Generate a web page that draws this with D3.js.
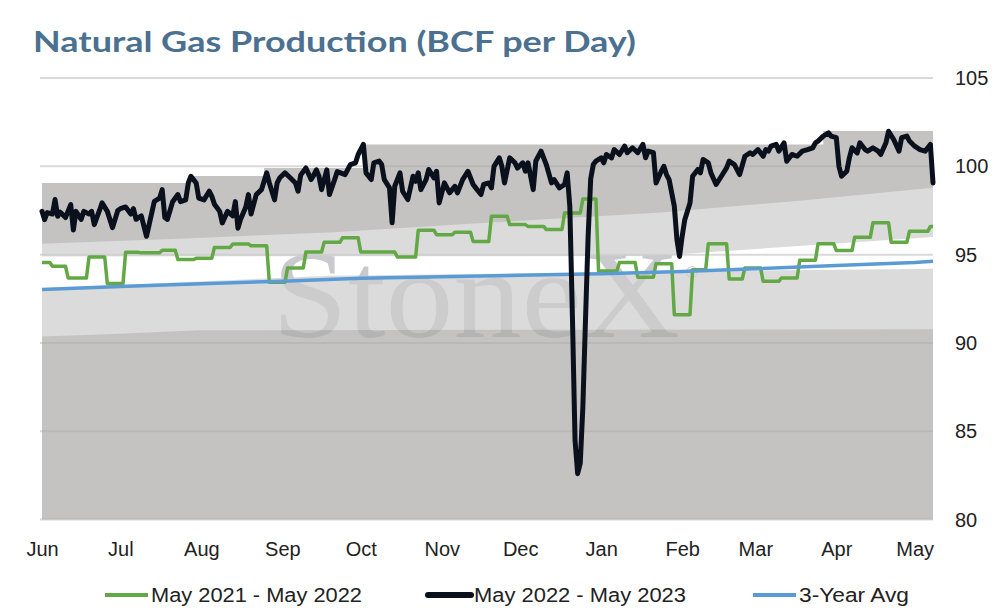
<!DOCTYPE html>
<html>
<head>
<meta charset="utf-8">
<script src="https://cdn.jsdelivr.net/npm/d3@7"></script>
<style>
  body { margin: 0; background: #fff; }
  text { font-family: "Liberation Sans", Arial, sans-serif; }
</style>
</head>
<body>
<div id="chart"></div>
<script>
// daily production, days counted from 1 Jun 2022
var blackDays = [0,1,2,4,5,6,7,9,11,12,13,15,16,18,19,20,22,23,25,27,29,30,32,34,35,36,38,40,41,43,45,46,47,48,50,52,53,55,56,57,59,60,62,64,65,66,68,69,71,73,74,75,76,78,79,80,82,84,85,86,87,89,90,91,93,95,97,98,99,101,103,104,105,106,107,109,110,112,113,
  116,118,120,121,123,124,126,127,129,130,131,133,134,135,137,138,140,142,143,144,145,147,148,150,151,152,154,155,156,158,159,161,163,165,166,168,169,171,172,173,175,176,177,179,181,182,184,185,186,188,189,191,193,195,196,198,200,201,
  202,203,204,205,206,207,208,209,210,211,212,214,215,216,218,219,221,223,224,226,228,230,231,232,234,235,237,238,239,240,242,243,244,245,246,248,249,251,252,253,255,256,258,260,
  262,263,265,267,269,271,272,274,276,277,278,279,281,282,284,285,287,289,291,293,295,296,297,299,301,302,304,305,306,308,309,310,312,313,315,316,318,320,321,323,324,326,328,329,331,332,334,336,338,339,340,341];
var blackVals = [97.45,96.98,97.38,97.3,98.12,97.17,97.4,97.1,97.83,96.4,97.45,97.0,97.45,97.3,97.45,96.7,97.5,97.93,97.45,96.53,97.5,97.6,97.7,97.3,97.6,97.0,97.2,96.04,96.7,98.02,98.2,98.68,97.1,97.0,98.0,98.4,98.0,98.1,99.06,99.44,99.06,98.2,98.1,98.59,98.3,97.85,97.45,96.8,97.45,97.2,98.0,96.5,97.0,97.7,98.4,97.3,98.4,98.68,99.15,99.63,99.06,98.1,99.06,99.35,99.63,99.35,99.06,98.59,99.5,99.91,99.25,99.5,99.8,99.44,98.68,99.8,98.4,99.25,99.7,
  99.53,100.1,100.2,100.67,101.24,99.63,99.25,100.2,100.3,100.1,99.25,98.78,96.8,98.87,99.63,98.59,98.12,99.44,99.15,99.63,98.68,99.25,99.82,99.35,99.72,97.93,99.06,98.78,98.5,98.87,98.5,99.25,99.72,98.97,98.78,98.4,98.97,99.06,98.78,100.0,100.48,100.0,99.06,100.48,100.2,99.9,100.2,99.72,100.2,98.68,100.3,100.86,100.1,99.06,99.25,98.78,98.97,99.63,
  97.74,91.5,84.5,82.6,83.2,86.4,91.3,96.0,99.3,100.1,100.3,100.48,100.2,100.67,100.48,100.95,100.67,101.14,100.77,101.05,100.77,101.24,100.48,100.86,100.77,99.06,99.72,100.0,99.53,99.25,97.74,95.85,94.9,96.04,96.98,97.93,99.44,99.82,99.63,100.39,100.2,99.63,98.97,99.44,
  99.91,100.29,100.1,99.53,100.57,100.77,100.67,100.95,100.57,100.95,100.86,101.14,101.24,100.86,101.33,100.29,100.67,100.57,100.86,100.95,101.05,101.33,101.43,101.71,101.9,101.71,101.62,100.0,99.44,99.72,100.48,101.05,100.76,101.33,100.95,100.86,101.05,100.86,100.67,101.33,101.99,101.5,100.86,101.62,101.71,101.43,101.14,100.95,100.86,101.05,101.24,99.06];

// prior year, weekly steps (start day of each step)
var greenStart = [0,4,10,18,25,32,38,46,52,59,66,73,80,87,94,101,108,115,122,136,144,151,158,165,172,179,186,193,200,207,213,221,228,235,242,249,255,263,269,276,283,290,297,304,311,318,325,332,340];
var greenVals = [94.56,94.34,93.68,94.87,93.36,95.13,95.1,95.25,94.72,94.8,95.41,95.6,95.5,93.43,94.25,95.15,95.7,95.95,95.15,94.87,96.38,96.13,96.27,95.75,97.17,96.7,96.6,96.42,97.36,98.15,94.07,94.56,93.72,94.49,91.6,94.15,95.62,93.62,94.25,93.49,93.68,94.68,95.62,95.23,95.98,96.8,95.7,96.32,96.6];

var avgDays = [0,30,61,92,122,153,183,214,245,273,304,334,341];
var avgVals = [93.02,93.2,93.35,93.5,93.66,93.75,93.83,93.92,94.05,94.2,94.38,94.56,94.63];

// shaded range bands (top edge of each layer)
var baseDays = [0,25,60,341];
var baseTop = [90.37,90.5,90.72,90.78];
var gapLowDays = [0,110,237,341];
var gapLow = [93.1,93.8,94.05,94.2];
var gapHighDays = [0,233,341];
var gapHigh = [94.9,94.92,96.0];
var rangeLowDays = [0,55,110,170,237,290,341];
var rangeLow = [95.62,95.92,96.25,96.8,97.38,98.05,98.78];
var rangeHighDays = [0,56,85,124,299,341];
var rangeHigh = [99.06,99.45,99.9,101.24,102.0,102.0];

var yTicks = [80,85,90,95,100,105];
var legendNames = ["May 2021 - May 2022", "May 2022 - May 2023", "3-Year Avg"];
var legendColors = ["#62a844", "#0b111c", "#5b9bd5"];

var W = 994, H = 614;
var start = new Date(Date.UTC(2022, 5, 1));
function day(n) { return d3.utcDay.offset(start, n); }

var svg = d3.select("#chart").append("svg")
    .attr("width", W).attr("height", H);

var x = d3.scaleUtc().domain([start, day(341)]).range([42, 933]);
var y = d3.scaleLinear().domain([80, 105]).range([519.6, 78]);

// title
svg.append("text")
    .attr("x", 33).attr("y", 52)
    .attr("fill", "#4b7090")
    .style("font-family", "Lato, 'Open Sans', sans-serif")
    .style("font-weight", "bold")
    .style("font-size", "29px")
    .attr("textLength", 603)
    .attr("lengthAdjust", "spacingAndGlyphs")
    .text("Natural Gas Production (BCF per Day)");

// gridlines
svg.append("g").selectAll("line")
    .data(yTicks).enter().append("line")
    .attr("x1", 40).attr("x2", 933)
    .attr("y1", d => y(d)).attr("y2", d => y(d))
    .attr("stroke", "#d9d9d9").attr("stroke-width", 2);

// watermark
svg.append("text")
    .attr("x", 272).attr("y", 337)
    .attr("fill", "#cacace")
    .style("font-family", "'Liberation Serif', 'DejaVu Serif', serif")
    .style("font-size", "124px")
    .attr("textLength", 408)
    .attr("lengthAdjust", "spacingAndGlyphs")
    .text("StoneX");
svg.append("text")
    .attr("x", 686).attr("y", 278)
    .attr("fill", "#cacace")
    .style("font-size", "16px")
    .text("\u00ae");

function pts(days, vals) { return days.map((d, i) => [day(d), vals[i]]); }
function areaGen(curve) {
    return d3.area().x(d => x(d[0])).y0(y(80)).y1(d => y(d[1])).curve(curve || d3.curveLinear);
}

// mask removes the white gap between the two light bands
var defs = svg.append("defs");
var mask = defs.append("mask").attr("id", "gapMask");
mask.append("rect").attr("x", 0).attr("y", 0).attr("width", W).attr("height", H).attr("fill", "#fff");
mask.append("path").attr("d", areaGen()(pts(gapHighDays, gapHigh))).attr("fill", "#000");
mask.append("path").attr("d", areaGen()(pts(gapLowDays, gapLow))).attr("fill", "#fff");

var bands = svg.append("g").attr("opacity", 0.7).attr("mask", "url(#gapMask)");
bands.append("path").attr("d", areaGen(d3.curveStepAfter)(pts(rangeHighDays, rangeHigh))).attr("fill", "#acaba9");
bands.append("path").attr("d", areaGen()(pts(rangeLowDays, rangeLow))).attr("fill", "#cdcdcd");
bands.append("path").attr("d", areaGen()(pts(baseDays, baseTop))).attr("fill", "#acaba9");

// axes
var xAxis = svg.append("g")
    .attr("transform", "translate(0,520)")
    .call(d3.axisBottom(x)
        .tickValues(d3.utcMonth.range(start, day(342)))
        .tickFormat(d3.utcFormat("%b"))
        .tickSize(0).tickPadding(22));
xAxis.select(".domain").remove();
xAxis.selectAll("text").style("font-size", "20px").attr("fill", "#222")
    .style("font-family", "'Liberation Sans', Arial, sans-serif");

var yAxis = svg.append("g")
    .attr("transform", "translate(933,0)")
    .call(d3.axisRight(y).tickValues(yTicks).tickSize(0).tickPadding(22));
yAxis.select(".domain").remove();
yAxis.selectAll("text").style("font-size", "20px").attr("fill", "#222")
    .style("font-family", "'Liberation Sans', Arial, sans-serif");

// series
var line = d3.line().x(d => x(d[0])).y(d => y(d[1]));

var greenPts = [];
greenStart.forEach(function (s, i) {
    var e = i < greenStart.length - 1 ? greenStart[i + 1] - 1 : 341;
    greenPts.push([day(s), greenVals[i]]);
    if (e > s) greenPts.push([day(e), greenVals[i]]);
});

svg.append("path").attr("d", line(greenPts))
    .attr("fill", "none").attr("stroke", legendColors[0]).attr("stroke-width", 3.5)
    .attr("stroke-linejoin", "round");
svg.append("path").attr("d", line(pts(avgDays, avgVals)))
    .attr("fill", "none").attr("stroke", legendColors[2]).attr("stroke-width", 3.5)
    .attr("stroke-linejoin", "round");
svg.append("path").attr("d", line(pts(blackDays, blackVals)))
    .attr("fill", "none").attr("stroke", legendColors[1]).attr("stroke-width", 5)
    .attr("stroke-linejoin", "round").attr("stroke-linecap", "round");

// legend
var legX = [105, 428, 753];
var legLen = [211, 212, 110];
var leg = svg.append("g").selectAll("g").data(legendNames).enter().append("g")
    .attr("transform", (d, i) => "translate(" + legX[i] + ",595)");
leg.append("line").attr("x1", 0).attr("x2", 43).attr("y1", 0).attr("y2", 0)
    .attr("stroke", (d, i) => legendColors[i])
    .attr("stroke-width", (d, i) => i === 1 ? 6 : 4)
    .attr("stroke-linecap", (d, i) => i === 1 ? "round" : "butt");
leg.append("text").attr("x", 46).attr("y", 7)
    .style("font-size", "20px").attr("fill", "#222")
    .attr("textLength", (d, i) => legLen[i])
    .attr("lengthAdjust", "spacingAndGlyphs")
    .text(d => d);
</script>
</body>
</html>
